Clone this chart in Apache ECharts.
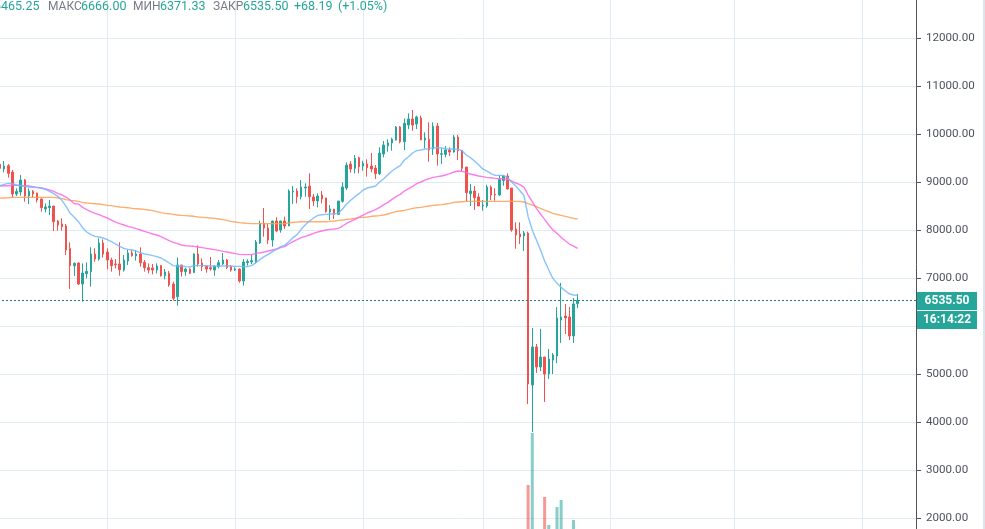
<!DOCTYPE html>
<html><head><meta charset="utf-8">
<style>html,body{margin:0;padding:0;background:#fff;overflow:hidden}#c{width:985px;height:529px}</style>
<script src="https://cdn.jsdelivr.net/npm/echarts@6/dist/echarts.min.js"></script>
</head><body><div id="c"></div>
<script>
// [open, close, low, high]
const candles = [
[9368,9284,9215,9403],[9271,9333,9201,9437],[9340,9180,9090,9375],[9208,8750,8673,9250],[8750,8805,8708,8868],
[8791,9041,8715,9146],[9041,8715,8590,9062],[8708,8805,8541,8868],[8805,8750,8673,8833],[8771,8625,8576,8778],
[8646,8465,8382,8660],[8437,8479,8368,8555],[8465,8500,8312,8625],[8500,8173,7979,8500],[8187,8104,7986,8208],
[8125,8069,7986,8243],[8083,7583,7479,8125],[7618,7257,6771,7743],[7257,7305,7042,7326],[7312,6875,6854,7326],
[6875,7104,6507,7305],[7090,7139,6993,7326],[7132,7500,6819,7639],[7500,7396,7340,7618],[7396,7729,7361,7826],
[7729,7500,7423,7805],[7541,7375,7180,7618],[7375,7257,7132,7423],[7292,7278,7201,7396],[7292,7173,7048,7743],
[7166,7375,7132,7479],[7354,7521,7271,7583],[7521,7465,7444,7583],[7458,7500,7361,7583],[7500,7319,7236,7639],
[7326,7215,7132,7375],[7215,7166,7097,7305],[7208,7166,7076,7292],[7166,7250,7097,7305],[7257,7048,7028,7271],
[7048,7125,6972,7187],[7097,6854,6819,7146],[6875,6576,6528,6924],[6611,7271,6424,7430],[7271,7132,7028,7271],
[7132,7187,7048,7215],[7187,7097,7083,7201],[7111,7500,7111,7514],[7500,7292,7236,7680],[7312,7236,7146,7410],
[7243,7187,7111,7271],[7215,7187,7153,7437],[7166,7243,7048,7271],[7236,7319,7201,7375],[7292,7375,7271,7521],
[7375,7215,7187,7396],[7236,7166,7132,7271],[7166,7187,7146,7222],[7187,6937,6903,7201],[6937,7333,6840,7396],
[7319,7347,7257,7389],[7333,7361,7292,7479],[7333,7750,7305,7791],[7729,8132,7708,8194],[8132,8041,7861,8458],
[8041,7791,7708,8125],[7791,8187,7653,8194],[8187,7979,7951,8264],[8000,8187,7944,8194],[8187,8083,8021,8278],
[8083,8812,8083,8847],[8791,8812,8541,8916],[8812,8694,8555,8868],[8694,8896,8639,9041],[8875,8896,8694,8972],
[8916,8694,8437,9180],[8687,8604,8500,8750],[8604,8708,8472,8764],[8729,8646,8555,8812],[8667,8382,8361,8673],
[8375,8437,8208,8521],[8437,8326,8229,8437],[8326,8604,8312,8604],[8597,8896,8569,8993],[8875,9354,8833,9409],
[9375,9271,9194,9437],[9284,9493,9180,9562],[9507,9319,9180,9527],[9333,9389,9236,9444],[9375,9298,9111,9472],
[9333,9271,9201,9604],[9291,9173,9062,9354],[9173,9604,9146,9722],[9583,9771,9514,9854],[9757,9812,9632,9889],
[9812,9889,9653,9923],[9875,10146,9861,10166],[10146,9840,9805,10166],[9840,10222,9666,10326],[10187,10312,10104,10430],
[10312,10187,10069,10500],[10208,10354,10104,10382],[10333,9875,9875,10382],[9875,9916,9701,10034],[9889,9666,9423,10243],
[9687,10159,9562,10243],[10166,9583,9340,10229],[9576,9590,9375,9701],[9576,9666,9514,9750],[9666,9625,9541,9722],
[9625,9937,9611,9979],[9937,9653,9458,9979],[9659,9284,9229,9666],[9312,8778,8590,9312],[8757,8812,8500,8958],
[8812,8673,8416,8916],[8687,8500,8500,8764],[8500,8514,8403,8625],[8500,8896,8465,8944],[8896,8729,8625,8930],
[8743,8729,8611,8868],[8729,9055,8708,9139],[9027,9125,8923,9146],[9125,8854,8847,9180],[8875,8000,7965,8875],
[8021,7896,7611,8160],[7917,7854,7708,8160],[7875,7937,7562,7979],[7937,4792,4375,7965],[4771,5563,3792,5958],
[5563,5146,5021,5625],[5146,5354,5063,5938],[5354,5000,4417,5354],[5000,5312,4896,5521],[5292,5396,5000,5437],
[5375,6167,5229,6396],[6125,6187,5646,6896],[6208,6167,5833,6458],[6187,5792,5708,6396],[5792,6458,5646,6583],
[6465.25,6535.5,6371.33,6666]
];
const maFast = [8923,8951,8972,8965,8937,8923,8910,8896,8889,8882,8875,8847,8805,8757,8701,8618,8493,8347,8264,8173,
8048,7958,7903,7868,7854,7833,7798,7757,7708,7660,7618,7597,7583,7562,7527,7500,7486,7465,7444,7417,
7368,7312,7257,7250,7250,7236,7229,7257,7257,7257,7257,7250,7250,7250,7250,7250,7250,7243,7243,7236,
7236,7257,7319,7382,7444,7493,7549,7597,7653,7680,7757,7840,7903,8014,8111,8187,8250,8305,8319,8326,
8333,8340,8347,8437,8541,8618,8694,8757,8833,8875,8896,8916,9000,9069,9153,9229,9291,9340,9458,9527,
9604,9653,9666,9687,9694,9715,9715,9708,9694,9687,9687,9680,9653,9562,9507,9437,9361,9271,9229,9173,
9139,9139,9139,9090,9000,8916,8819,8715,8278,8000,7791,7583,7354,7166,6993,6889,6805,6736,6666,6646,6639];
const maMid = [8916,8923,8923,8930,8930,8930,8923,8916,8903,8889,8875,8854,8833,8805,8764,8729,8687,8625,8548,8541,
8472,8423,8382,8347,8319,8285,8250,8208,8166,8132,8104,8076,8055,8027,8000,7972,7944,7917,7896,7861,
7819,7777,7743,7715,7687,7673,7666,7660,7646,7632,7618,7604,7590,7576,7555,7541,7527,7507,7493,7486,
7486,7486,7514,7527,7541,7562,7583,7604,7632,7653,7708,7757,7798,7840,7868,7896,7930,7958,7979,8000,
8014,8021,8035,8083,8139,8180,8222,8270,8312,8354,8389,8423,8472,8528,8576,8639,8694,8743,8812,8861,
8910,8965,9000,9041,9069,9097,9111,9125,9146,9173,9208,9229,9222,9194,9166,9146,9125,9111,9097,9090,
9076,9069,9069,9055,9021,8979,8944,8889,8729,8590,8451,8333,8222,8104,8000,7930,7847,7777,7708,7666,7618];
const maSlow = [8660,8667,8673,8680,8680,8680,8680,8680,8680,8680,8680,8680,8680,8680,8673,8653,8632,8618,8611,8597,
8576,8562,8555,8548,8541,8528,8514,8507,8493,8479,8472,8465,8451,8444,8437,8430,8416,8403,8382,8361,
8347,8340,8326,8312,8305,8299,8292,8285,8271,8264,8257,8250,8243,8229,8215,8201,8180,8166,8153,8146,
8139,8132,8132,8132,8132,8132,8132,8132,8132,8132,8146,8160,8166,8173,8173,8173,8173,8173,8173,8173,
8180,8187,8201,8208,8222,8229,8243,8257,8264,8271,8285,8292,8299,8312,8333,8361,8382,8396,8410,8430,
8451,8465,8472,8486,8500,8514,8521,8528,8541,8555,8576,8583,8590,8597,8597,8597,8597,8597,8597,8597,
8597,8597,8597,8597,8597,8597,8597,8583,8548,8521,8486,8451,8416,8382,8347,8326,8305,8285,8264,8243,8229];
// volume bars that reach into the picture: candle index -> height
const volumeVisible = {128:81,129:133,132:69,133:41,135:59,136:66,139:46};
const monthStarts = [26,57,88,117,148,178,209];
const lastPrice = 6535.5;

const TOTAL = 223;
const categories = [];
for (let i = 0, t = Date.UTC(2019,10,5); i < TOTAL; i++, t += 864e5) categories.push(new Date(t).toISOString().slice(0,10));
const volumes = categories.map((_, i) => volumeVisible[i] === undefined ? null : volumeVisible[i]);

const UP = '#26a69a', DOWN = '#ef5350';
const lineSeries = (name, data, color, z) => ({
  name, type:'line', data, showSymbol:false, symbol:'none', silent:true, z,
  lineStyle:{color, width:1.4, opacity:.85}, smooth:false, animation:false
});
const headerBits = [
  ['6465.25',-6,UP,'12.5px'],['МАКС',48,'#787b86','12px'],['6666.00',81,UP,'12.5px'],['МИН',133,'#787b86','12px'],['6371.33',160,UP,'12.5px'],
  ['ЗАКР',213,'#787b86','12px'],['6535.50',243,UP,'12.5px'],['+68.19',294,UP,'12.5px'],['(+1.05%)',338,UP,'12.5px']
];
const chart = echarts.init(document.getElementById('c'), null, {renderer:'canvas'});
chart.setOption({
  animation:false,
  backgroundColor:'#ffffff',
  grid:{left:-2, width:920, top:-10, height:576, containLabel:false, outerBoundsMode:'none'},
  xAxis:{type:'category', data:categories, boundaryGap:true,
    axisLine:{show:false}, axisTick:{show:false}, axisLabel:{show:false},
    splitLine:{show:true, alignWithLabel:true, interval:(i)=>monthStarts.includes(i), lineStyle:{color:'#e1ecf2',width:1}}},
  yAxis:[
    {type:'value', position:'right', offset:-2, min:1000, max:13000, interval:1000,
     axisLine:{show:true,onZero:false,lineStyle:{color:'#50535e',width:1}},
     axisTick:{show:true,length:5,lineStyle:{color:'#50535e',width:1}},
     axisLabel:{color:'#4c525e',fontFamily:'Roboto',fontSize:11.6,margin:10,padding:[3,0,0,0],formatter:v=>v.toFixed(2)},
     splitLine:{show:true,lineStyle:{color:'#e1ecf2',width:1}}},
    {type:'value', show:false, min:0, max:576, splitLine:{show:false}}
  ],
  series:[
    {type:'bar', yAxisIndex:1, data:volumes, barWidth:3, silent:true, z:1,
     itemStyle:{color:p=>{const c=candles[p.dataIndex];return c&&c[1]>=c[0]?'rgba(38,166,154,.55)':'rgba(239,83,80,.6)';}}},
    {type:'candlestick', data:candles, barWidth:2, z:2, silent:true,
     itemStyle:{color:UP,color0:DOWN,borderColor:UP,borderColor0:DOWN,borderWidth:1},
     markLine:{silent:true,symbol:'none',animation:false,label:{show:false},
       lineStyle:{color:'#1b7f76',type:[2,2],width:1},data:[{yAxis:lastPrice}]}},
    lineSeries('ma-slow',maSlow,'#ff9f55',3),
    lineSeries('ma-mid',maMid,'#fb66e6',4),
    lineSeries('ma-fast',maFast,'#72b9fb',5)
  ],
  graphic:[
    {type:'rect',z:100,shape:{x:917,y:292,width:60,height:18},style:{fill:UP}},
    {type:'text',z:101,style:{x:947,y:301,text:lastPrice.toFixed(2),fill:'#fff',font:'bold 12px Roboto',textAlign:'center',textVerticalAlign:'middle'}},
    {type:'rect',z:100,shape:{x:917,y:311,width:60,height:18},style:{fill:UP}},
    {type:'text',z:101,style:{x:947,y:320,text:'16:14:22',fill:'#fff',font:'bold 12px Roboto',textAlign:'center',textVerticalAlign:'middle'}},
    {type:'rect',z:100,shape:{x:983,y:0,width:2,height:529},style:{fill:'#e0e3eb'}},
    ...headerBits.map(([text,x,fill,size])=>({type:'text',z:101,style:{x,y:7,text,fill,font:size+' Roboto',textVerticalAlign:'middle'}}))
  ]
});
</script></body></html>
